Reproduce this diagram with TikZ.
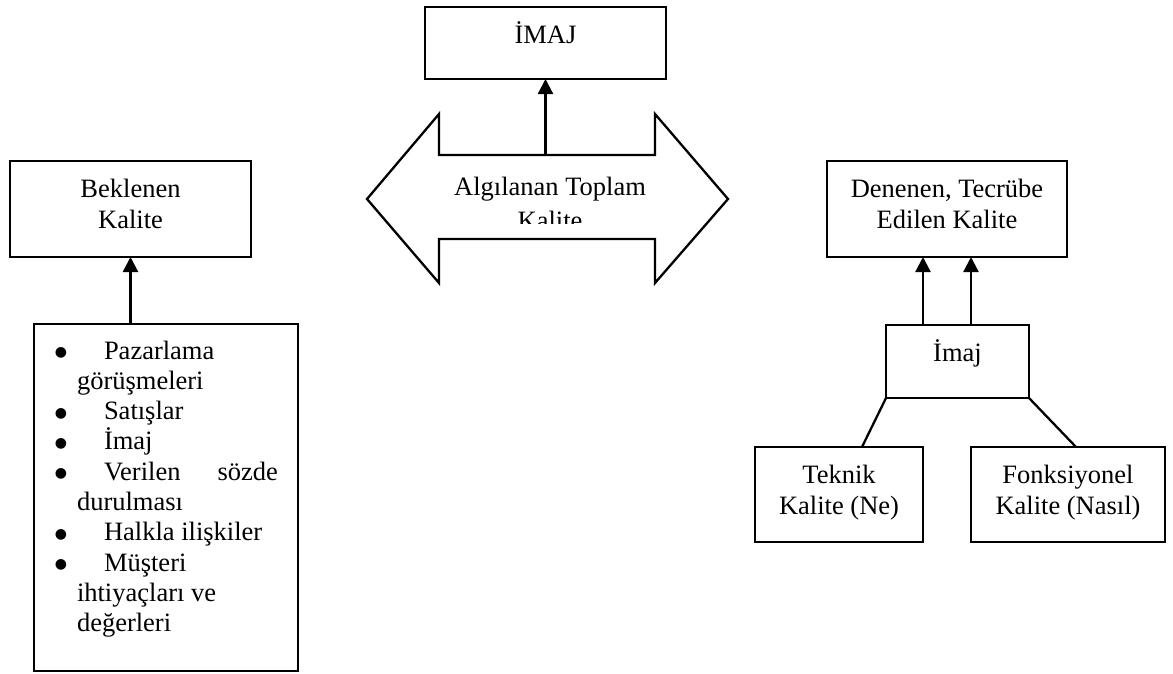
\documentclass[tikz,border=0pt]{standalone}
\usepackage{fontspec}
\setmainfont{Liberation Serif}
\newfontfamily\markfont{DejaVu Sans}
\usetikzlibrary{arrows.meta}
% centred block of lines whose first baseline is the node's base
\newcommand{\stacked}[1]{\begin{tabular}[t]{@{}c@{}}#1\end{tabular}}
% list bullet
\newcommand{\bigdot}{\raisebox{2.5pt}{\markfont\fontsize{14}{14}\selectfont ●}}

\begin{document}
\begin{tikzpicture}[x=1pt,y=-1pt,
  line width=2.3pt,
  every node/.style={inner sep=0pt, outer sep=0pt, font=\fontsize{26.5}{31}\selectfont},
  frame/.style={draw, rectangle, anchor=north west},
  caption/.style={anchor=base},
  itemtext/.style={anchor=base west},
  dot/.style={anchor=base},
  arr/.style={-{Triangle[width=15pt,length=15pt]}}]

\useasboundingbox (0,0) rectangle (1173,673);

% ---- boxes ----
\node[frame, minimum width=241pt, minimum height=72pt] (imaj) at (425,7) {};
\node[frame, minimum width=241pt, minimum height=96pt] (bek) at (10,161) {};
\node[frame, minimum width=264pt, minimum height=347pt] (list) at (34,324) {};
\node[frame, minimum width=240pt, minimum height=96pt] (den) at (827,161) {};
\node[frame, minimum width=143pt, minimum height=73pt] (imajR) at (886,325) {};
\node[frame, minimum width=168pt, minimum height=95pt] (tek) at (755,447) {};
\node[frame, minimum width=194pt, minimum height=95pt] (fonk) at (971,447) {};

% ---- box texts ----
\node[caption] (imajT) at (545.5,43) {İMAJ};
\node[caption] (bekT) at (130.5,197) {\stacked{Beklenen\\Kalite}};
\node[caption] (denT) at (947,197) {\stacked{Denenen, Tecrübe\\Edilen Kalite}};
\node[caption] (imajRT) at (957.5,361) {İmaj};
\node[caption] (tekT) at (839,483) {\stacked{Teknik\\Kalite (Ne)}};
\node[caption] (fonkT) at (1068,483) {\stacked{Fonksiyonel\\Kalite (Nasıl)}};

% ---- double-headed block arrow ----
\draw (367,199) -- (439,114) -- (439,155) -- (655,155) -- (655,114)
  -- (728,199) -- (655,283) -- (655,239) -- (439,239) -- (439,283) -- cycle;
\coordinate (dtop) at (545.5,155);
\begin{scope}
  \clip (439,155) rectangle (655,223);
  \node[caption] (topT) at (550,195) {\stacked{Algılanan Toplam\\[3pt]Kalite}};
\end{scope}

% ---- list of expectations ----
\node[dot] (d1) at (61,359.0) {\bigdot};
\node[itemtext] (l1) at (104,359.0) {Pazarlama};
\node[itemtext] (l2) at (77,389.3) {görüşmeleri};
\node[dot] (d2) at (61,419.6) {\bigdot};
\node[itemtext] (l3) at (104,419.6) {Satışlar};
\node[dot] (d3) at (61,449.9) {\bigdot};
\node[itemtext] (l4) at (104,449.9) {İmaj};
\node[dot] (d4) at (61,480.2) {\bigdot};
\node[itemtext] (l5) at (104,480.2) {\makebox[174pt][s]{Verilen sözde}};
\node[itemtext] (l6) at (77,510.5) {durulması};
\node[dot] (d5) at (61,540.8) {\bigdot};
\node[itemtext] (l7) at (104,540.8) {Halkla ilişkiler};
\node[dot] (d6) at (61,571.1) {\bigdot};
\node[itemtext] (l8) at (104,571.1) {Müşteri};
\node[itemtext] (l9) at (77,601.4) {ihtiyaçları ve};
\node[itemtext] (l10) at (77,631.7) {değerleri};

% ---- connectors ----
\draw[arr] (dtop) -- (imaj.south);
\draw[arr] (bek.south |- list.north) -- (bek.south);

\coordinate (ua) at ([xshift=-34.5pt]imajR.north);
\coordinate (ub) at ([xshift=13.5pt]imajR.north);
\draw[arr] (ua) -- (ua |- den.south);
\draw[arr] (ub) -- (ub |- den.south);

\coordinate (ta) at ([xshift=23pt]tek.north);
\coordinate (fa) at ([xshift=8pt]fonk.north);
\draw (imajR.south west) -- (ta);
\draw (imajR.south east) -- (fa);
\end{tikzpicture}
\end{document}
